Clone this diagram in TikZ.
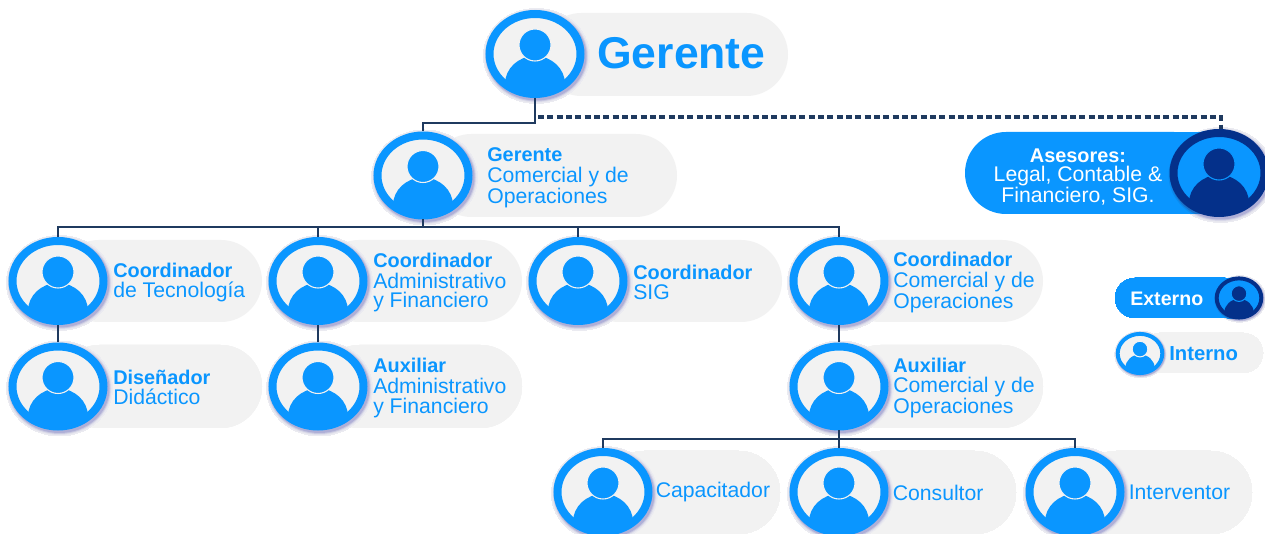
\documentclass[tikz,border=0pt]{standalone}
\usepackage{fontspec}
\setmainfont{Liberation Sans}
\usetikzlibrary{shapes.geometric}
\definecolor{brand}{HTML}{0A96FF}
\definecolor{pale}{HTML}{F2F2F2}
\definecolor{navy}{HTML}{04308A}
\definecolor{wire}{HTML}{1F3A5F}
\definecolor{haloa}{HTML}{EBEBF1}
\definecolor{halob}{HTML}{E0E0EC}
\definecolor{haloc}{HTML}{C9C9E1}
\definecolor{halod}{HTML}{AFAFD7}
\definecolor{shadea}{HTML}{0A8AEE}
\definecolor{shadeb}{HTML}{1A70C8}
\newcommand{\pillbar}[6]{% x0 y0 x1 y1 radius colour
  \fill[#6,rounded corners=#5*0.75pt] (#1,#2) rectangle (#3,#4);}
\newcommand{\plainfix}{}
\newcommand{\navyfix}{%
  \fill[brand] (-60,-41) rectangle (0,41);
  \begin{scope}
    \clip (-60,-41) rectangle (0,41);
    \fill[shadea] (1.5,2) ellipse[x radius=52,y radius=46.5];
    \fill[shadeb] (1.5,2) ellipse[x radius=50.5,y radius=45];
  \end{scope}}
\newcommand{\person}[8]{% name cx cy scale ring inner figure fix
  \begin{scope}[shift={(#2,#3)},scale=#4]
    \foreach \g/\c in {3.5/haloa,2.5/halob,1.5/haloc,0.5/halod}
      \fill[\c] (1.5,2) ellipse[x radius=49.5+\g,y radius=44+\g];
    #8
    \fill[#6] (0,0) ellipse[x radius=45.5,y radius=40];
    \begin{scope}
      \clip (0,0) ellipse[x radius=45.5,y radius=40];
      \fill[#7] (0,30) ellipse[x radius=30,y radius=28];
      \fill[#7] (-30,30) rectangle (30,50);
      \fill[#7,draw=#6,line width=0.8pt] (0,-9) circle[radius=16];
    \end{scope}
    \draw[#5,line width=8*0.75pt*#4] (0,0) ellipse[x radius=45.5,y radius=40];
  \end{scope}
  \node[personframe,minimum width=99*0.75pt*#4,minimum height=88*0.75pt*#4] (#1) at (#2,#3) {};}
\tikzset{
  personframe/.style={ellipse,inner sep=0pt,outer sep=0pt},
  link/.style={draw=wire,line width=1.6pt},
  extlink/.style={draw=wire,line width=2.4pt,dash pattern=on 4.5pt off 2.5pt},
  role/.style={anchor=west,align=left,inner sep=0pt,text=brand,
    font=\fontsize{15.9}{14.6}\selectfont},
}
\begin{document}
\begin{tikzpicture}[x=0.75pt,y=-0.75pt]
\useasboundingbox (0,0) rectangle (1265,534);
\fill[white] (0,0) rectangle (1265,534);
% pills
\pillbar{540}{13}{788}{96}{41.5}{pale}
\pillbar{430}{134}{677}{217}{41.5}{pale}
\pillbar{965}{132}{1215}{214}{41}{brand}
\foreach \x/\r in {58/262,318/522,578/782,839/1043}
  \pillbar{\x}{240}{\r}{322}{41}{pale}
\foreach \x/\r in {58/262,318/522,839/1043}
  \pillbar{\x}{345}{\r}{428}{41.5}{pale}
\foreach \x/\r in {603/780,839/1016,1075/1252}
  \pillbar{\x}{451}{\r}{534}{41.5}{pale}
\pillbar{1115}{278}{1245}{318}{20}{brand}
\pillbar{1140}{333}{1263}{373}{20}{pale}
% people
\person{gerente}{535}{54}{1}{brand}{pale}{brand}{\plainfix}
\person{gco}{423}{175.5}{1}{brand}{pale}{brand}{\plainfix}
\person{ases}{1219}{173}{1}{navy}{brand}{navy}{\navyfix}
\person{ctec}{58}{281}{1}{brand}{pale}{brand}{\plainfix}
\person{cadm}{318}{281}{1}{brand}{pale}{brand}{\plainfix}
\person{csig}{578}{281}{1}{brand}{pale}{brand}{\plainfix}
\person{ccom}{839}{281}{1}{brand}{pale}{brand}{\plainfix}
\person{disd}{58}{386.5}{1}{brand}{pale}{brand}{\plainfix}
\person{aadm}{318}{386.5}{1}{brand}{pale}{brand}{\plainfix}
\person{acom}{839}{386.5}{1}{brand}{pale}{brand}{\plainfix}
\person{capa}{603}{492}{1}{brand}{pale}{brand}{\plainfix}
\person{cons}{839}{492}{1}{brand}{pale}{brand}{\plainfix}
\person{inte}{1075}{492}{1}{brand}{pale}{brand}{\plainfix}
\person{lext}{1239}{298}{0.49}{navy}{brand}{navy}{\navyfix}
\person{lint}{1140}{353.5}{0.49}{brand}{pale}{brand}{\plainfix}
% connectors
\coordinate (t1) at (535,123);
\coordinate (t2) at (423,123);
\coordinate (e1) at (538,117);
\coordinate (e2) at (1221,117);
\coordinate (e3) at (1221,129);
\coordinate (b0) at (423,227);
\coordinate (bl) at (58,227);
\coordinate (b1) at (318,227);
\coordinate (b2) at (578,227);
\coordinate (br) at (839,227);
\coordinate (c0) at (839,439);
\coordinate (cl) at (603,439);
\coordinate (cr) at (1075,439);
\path[link] (gerente.south) -- (t1) -- (t2) -- (gco.north);
\path[extlink] (e1) -- (e2) -- (e3);
\path[link] (gco.south) -- (b0);
\path[link] (ctec.north) -- (bl) -- (br) -- (ccom.north);
\path[link] (b1) -- (cadm.north);
\path[link] (b2) -- (csig.north);
\path[link] (ctec.south) -- (disd.north);
\path[link] (cadm.south) -- (aadm.north);
\path[link] (ccom.south) -- (acom.north);
\path[link] (acom.south) -- (c0);
\path[link] (capa.north) -- (cl) -- (cr) -- (inte.north);
\path[link] (c0) -- (cons.north);
% texts
\node[anchor=west,inner sep=0pt,text=brand,font=\fontsize{33.4}{34}\selectfont\bfseries] (tger) at (597,53) {Gerente};
\node[role] (tgco) at (487,177.5) {\textbf{\fontsize{14.9}{14.6}\selectfont Gerente}\\[1pt]Comercial y de\\Operaciones};
\node[anchor=center,align=center,inner sep=0pt,text=white,font=\fontsize{15.9}{14.6}\selectfont] (tase) at (1078,177) {\textbf{\fontsize{14.9}{14.6}\selectfont Asesores:}\\Legal, Contable \&\\Financiero, SIG.};
\node[role] (tctec) at (113,282.5) {\textbf{\fontsize{14.9}{14.6}\selectfont Coordinador}\\[1pt]de Tecnología};
\node[role] (tcadm) at (373,282.5) {\textbf{\fontsize{14.9}{14.6}\selectfont Coordinador}\\[1pt]Administrativo\\y Financiero};
\node[role] (tcsig) at (633,282.5) {\textbf{\fontsize{14.9}{14.6}\selectfont Coordinador}\\[1pt]SIG};
\node[role] (tccom) at (893,282.5) {\textbf{\fontsize{14.9}{14.6}\selectfont Coordinador}\\[1pt]Comercial y de\\Operaciones};
\node[role] (tdis) at (113,387.5) {\textbf{\fontsize{14.9}{14.6}\selectfont Diseñador}\\[1pt]Didáctico};
\node[role] (taadm) at (373,388) {\textbf{\fontsize{14.9}{14.6}\selectfont Auxiliar}\\[1pt]Administrativo\\y Financiero};
\node[role] (tacom) at (893,388) {\textbf{\fontsize{14.9}{14.6}\selectfont Auxiliar}\\[1pt]Comercial y de\\Operaciones};
\node[role] (tcapa) at (655.5,492.5) {Capacitador};
\node[role] (tcons) at (892.5,492.5) {Consultor};
\node[role] (tinte) at (1128.5,492.5) {Interventor};
\node[anchor=west,inner sep=0pt,text=white,font=\fontsize{14.7}{15}\selectfont\bfseries] (text) at (1130,299) {Externo};
\node[anchor=west,inner sep=0pt,text=brand,font=\fontsize{15.2}{15}\selectfont\bfseries] (tint) at (1169,353.5) {Interno};
\end{tikzpicture}
\end{document}
